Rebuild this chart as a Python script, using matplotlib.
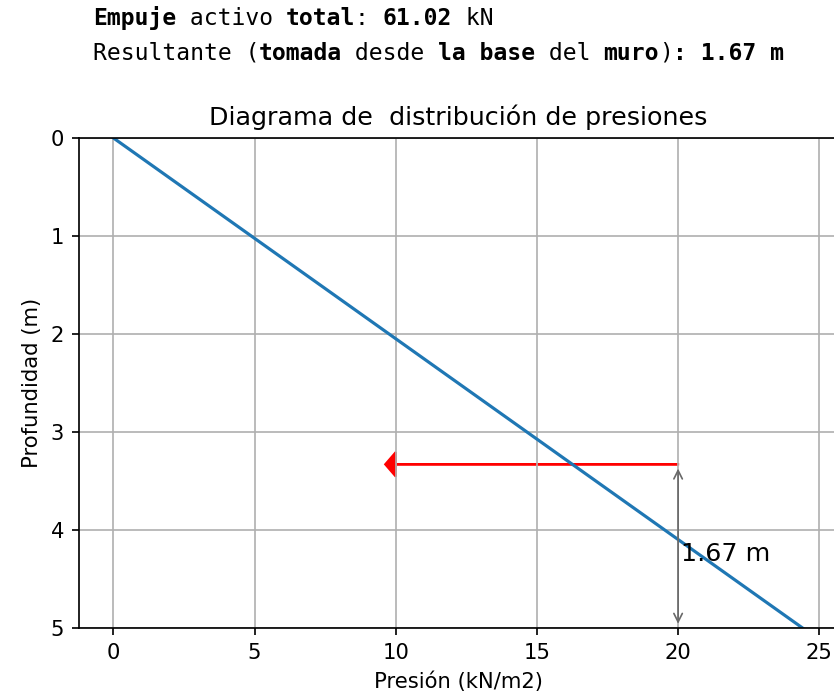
import matplotlib.pyplot as plt

# Datos del diagrama de presiones
profundidad = [0, 5]
presion = [0, 24.408]
empuje_total = 61.02
resultante = 1.67
altura_muro = 5
x_flecha = 20

# Texto de salida (segmentos con su peso)
linea1 = [("Empuje", "bold"), (" activo ", "normal"), ("total", "bold"),
          (": ", "normal"), ("61.02", "bold"), (" kN", "normal")]
linea2 = [("Resultante (", "normal"), ("tomada", "bold"), (" desde ", "normal"),
          ("la base", "bold"), (" del ", "normal"), ("muro", "bold"),
          (")", "normal"), (": 1.67 m", "bold")]

DPI = 152
fig = plt.figure(figsize=(834 / DPI, 698 / DPI), dpi=DPI)
# el eje derecho queda fuera de la imagen, como en la captura
ax = fig.add_axes([79 / 834, 1 - 628 / 698, 758 / 834, 490 / 698])

ax.plot(presion, profundidad)
ax.set_ylim(altura_muro, 0)
ax.set_title('Diagrama de  distribución de presiones')
ax.set_xlabel('Presión (kN/m2)')
ax.set_ylabel('Profundidad (m)')
ax.grid(True)

# Flecha del empuje
y_res = altura_muro - resultante
ax.arrow(x_flecha, y_res, -10, 0, head_width=0.25, color='red')
ax.annotate('', xy=(x_flecha, y_res), xytext=(x_flecha, altura_muro),
            arrowprops=dict(arrowstyle='<->', color='dimgray', lw=0.8))
ax.text(x_flecha + 0.12, 4.32, f'{resultante} m', fontsize=12)

# Texto impreso arriba (monoespaciado)
cw = 13.8
for fila, y in [(linea1, 25), (linea2, 60)]:
    n = 0
    for txt, peso in fila:
        fig.text((93 + n * cw) / 834, 1 - y / 698, txt, family='DejaVu Sans Mono',
                 fontsize=10.9, fontweight=peso, va='baseline')
        n += len(txt)

plt.savefig('out.png', dpi=DPI)
